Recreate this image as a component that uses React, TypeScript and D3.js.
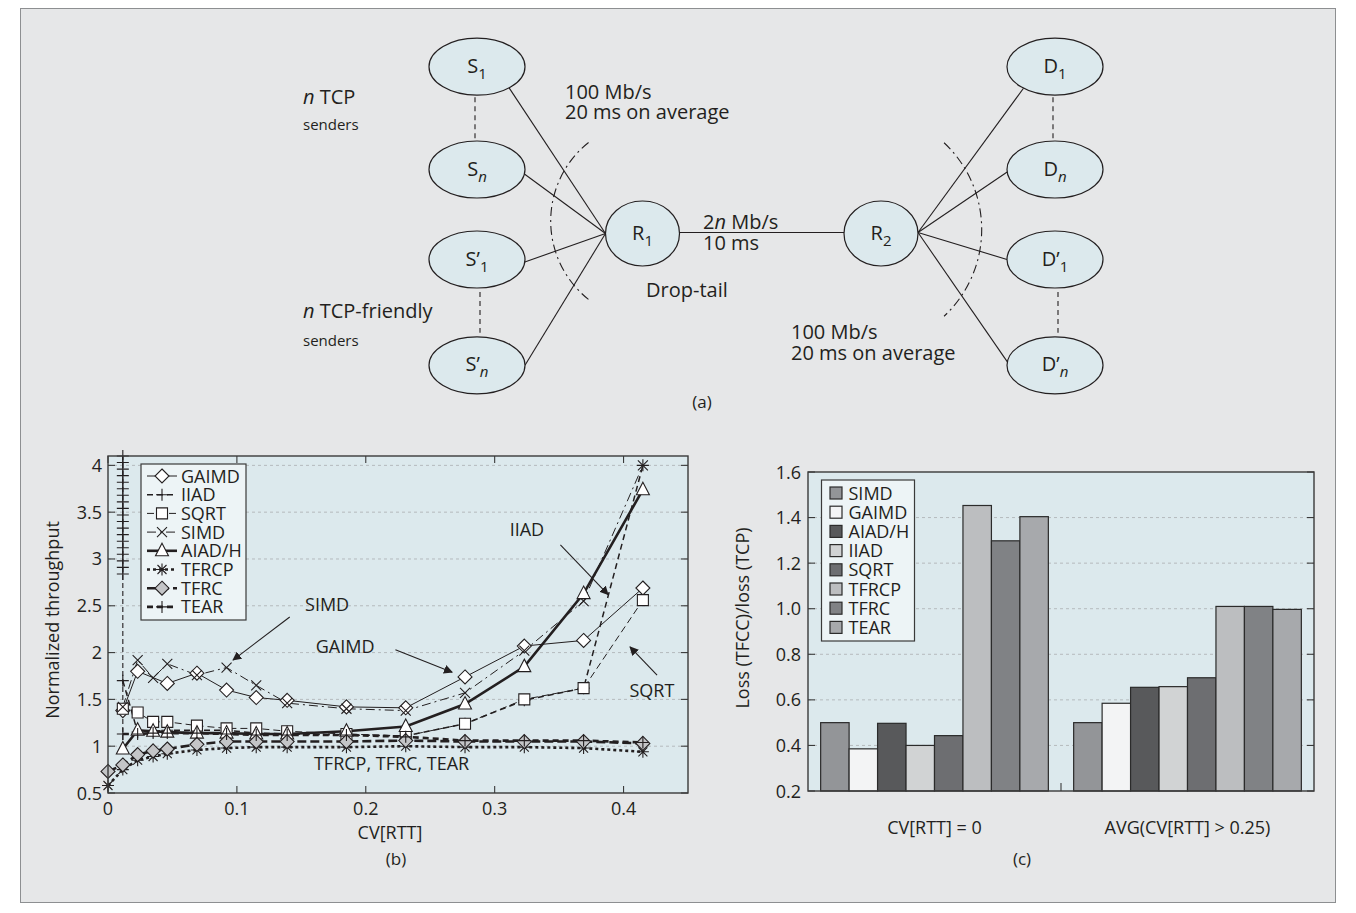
import React from 'react'
import * as d3 from 'd3'

const FONT = '"Open Sans", "Noto Sans", sans-serif'
const INK = '#231f20'
const PAGE_BG = '#e6e7e8'
const PLOT_BG = '#dce9ed'
const LEGEND_BG = '#edf4f6'
const NODE_BG = '#dce9ed'
const GRID = '#b5babd'

// ---------- (b) normalized throughput vs CV[RTT]
const cvRtt = [0, 0.0115, 0.023, 0.035, 0.046, 0.069, 0.092, 0.115, 0.139, 0.185, 0.231, 0.277, 0.323, 0.369, 0.415]
const gaimd = [null, 1.38, 1.8, null, 1.67, 1.78, 1.6, 1.52, 1.49, 1.42, 1.41, 1.74, 2.07, 2.13, 2.69]
const iiad = [null, 1.7, 1.15, 1.16, 1.17, 1.17, 1.17, 1.14, 1.13, 1.12, 1.11, 1.24, 1.49, 1.62, 4.0]
const sqrtV = [null, 1.4, 1.36, 1.26, 1.26, 1.22, 1.19, 1.19, 1.16, 1.13, 1.11, 1.24, 1.5, 1.62, 2.56]
const simd = [null, 1.42, 1.92, 1.73, 1.88, 1.76, 1.84, 1.65, 1.46, 1.4, 1.38, 1.57, 2.02, 2.55, 4.0]
const aiadh = [null, 0.97, 1.17, 1.16, 1.15, 1.14, 1.14, 1.13, 1.13, 1.16, 1.21, 1.45, 1.85, 2.63, 3.74]
const tfrcp = [0.58, 0.75, 0.85, 0.89, 0.92, 0.96, 0.98, 0.99, 0.99, 0.99, 1.0, 0.99, 0.99, 0.98, 0.94]
const tfrc = [0.73, 0.8, 0.91, 0.95, 0.97, 1.02, 1.05, 1.05, 1.05, 1.05, 1.06, 1.05, 1.05, 1.05, 1.03]
const tear = [null, 1.13, 1.13, 1.14, 1.14, 1.14, 1.13, 1.12, 1.12, 1.12, 1.1, 1.06, 1.06, 1.06, 1.04]
// the column of IIAD samples at the first non-zero CV
const iiadSpikeX = 0.0115
const iiadSpikeBase = 0.98
const iiadSpike = [2.84, 2.91, 2.98, 3.05, 3.12, 3.19, 3.26, 3.33, 3.4, 3.47, 3.54, 3.61, 3.68, 3.75, 3.82, 3.89, 3.96, 4.03, 4.1]
const yTicksB = [0.5, 1, 1.5, 2, 2.5, 3, 3.5, 4]
const xTicksB = [0, 0.1, 0.2, 0.3, 0.4]

// ---------- (c) loss ratio bars
const lossGroups = ['CV[RTT] = 0', 'AVG(CV[RTT] > 0.25)']
const lossProtocols = ['SIMD', 'GAIMD', 'AIAD/H', 'IIAD', 'SQRT', 'TFRCP', 'TFRC', 'TEAR']
const lossCvZero = [0.5, 0.385, 0.497, 0.4, 0.443, 1.453, 1.298, 1.404]
const lossCvHigh = [0.5, 0.585, 0.655, 0.658, 0.697, 1.01, 1.01, 0.997]
const barColors = ['#939598', '#f3f4f5', '#58595b', '#d1d3d4', '#6d6e71', '#bcbec0', '#808285', '#a7a9ac']
const yTicksC = [0.2, 0.4, 0.6, 0.8, 1.0, 1.2, 1.4, 1.6]

const series = [
  { name: 'GAIMD', values: gaimd, marker: 'diamond', fill: '#fff', width: 1, dash: '' },
  { name: 'IIAD', values: iiad, marker: 'plus', fill: 'none', width: 1.5, dash: '6,4' },
  { name: 'SQRT', values: sqrtV, marker: 'square', fill: '#fff', width: 1, dash: '7,4' },
  { name: 'SIMD', values: simd, marker: 'cross', fill: 'none', width: 1, dash: '9,4,2,4' },
  { name: 'AIAD/H', values: aiadh, marker: 'triangle', fill: '#fff', width: 2.6, dash: '' },
  { name: 'TFRCP', values: tfrcp, marker: 'star', fill: 'none', width: 2.6, dash: '3,3' },
  { name: 'TFRC', values: tfrc, marker: 'diamond', fill: '#c4c5c7', width: 2.6, dash: '9,4' },
  { name: 'TEAR', values: tear, marker: 'plus', fill: 'none', width: 2.6, dash: '6,4' },
]

function markerPath(kind: string): string {
  switch (kind) {
    case 'diamond': return 'M0,-7L7,0L0,7L-7,0Z'
    case 'square': return 'M-5.5,-5.5H5.5V5.5H-5.5Z'
    case 'triangle': return 'M0,-7.5L6.5,5L-6.5,5Z'
    case 'plus': return 'M-6,0H6M0,-6V6'
    case 'cross': return 'M-5,-5L5,5M5,-5L-5,5'
    case 'star': return 'M-6,0H6M0,-6V6M-4.5,-4.5L4.5,4.5M4.5,-4.5L-4.5,4.5'
  }
  return ''
}

const Marker = ({ kind, fill, x, y }: { kind: string; fill: string; x: number; y: number }) => (
  <path d={markerPath(kind)} transform={`translate(${x},${y})`} fill={fill} stroke={INK} strokeWidth={1.1} />
)

// ---------- diagram (a)
const nodeRx = 48, nodeRy = 28.5
const senders = [
  { base: 'S', prime: false, sub: '1', italic: false, cy: 66.7, angle: 48 },
  { base: 'S', prime: false, sub: 'n', italic: true, cy: 169.5, angle: 9 },
  { base: 'S', prime: true, sub: '1', italic: false, cy: 259.5, angle: 5 },
  { base: 'S', prime: true, sub: 'n', italic: true, cy: 365.3, angle: 0 },
]
const receivers = [
  { base: 'D', prime: false, sub: '1', italic: false, cy: 66.7, angle: 131 },
  { base: 'D', prime: false, sub: 'n', italic: true, cy: 169.5, angle: 175 },
  { base: 'D', prime: true, sub: '1', italic: false, cy: 259.5, angle: 180 },
  { base: 'D', prime: true, sub: 'n', italic: true, cy: 365.3, angle: 187 },
]
const senderX = 477, receiverX = 1055
const r1 = { cx: 642.5, cy: 233.5, rx: 37, ry: 32.5 }
const r2 = { cx: 881, cy: 233.5, rx: 37, ry: 32.5 }

const NodeLabel = ({ x, y, base, prime, sub, italic }: any) => (
  <text x={x} y={y} textAnchor="middle" fontFamily={FONT} fontSize={20} fill={INK}>
    {base}{prime ? '\u2019' : ''}
    <tspan fontSize={15} dy={6} fontStyle={italic ? 'italic' : 'normal'}>{sub}</tspan>
  </text>
)

function arcPath(cx: number, cy: number, r: number, a0: number, a1: number) {
  const p = d3.path()
  p.arc(cx, cy, r, (a0 * Math.PI) / 180, (a1 * Math.PI) / 180, a1 < a0)
  return p.toString()
}

export default function App() {
  // scales for (b)
  const xB = d3.scaleLinear().domain([0, 0.45]).range([108, 688])
  const yB = d3.scaleLinear().domain([0.5, 4.1]).range([793, 456])
  const line = d3.line<[number, number]>().x(d => xB(d[0])).y(d => yB(d[1]))
  const pts = (vals: (number | null)[]) =>
    cvRtt.map((c, i) => [c, vals[i]] as [number, number | null]).filter(d => d[1] != null) as [number, number][]

  // scales for (c)
  const cL = 808, cR = 1314, cT = 472, cB = 791
  const x0 = d3.scaleBand<string>().domain(lossGroups).range([cL, cR]).paddingInner(0.1).paddingOuter(0.05)
  const x1 = d3.scaleBand<string>().domain(lossProtocols).range([0, x0.bandwidth()])
  const yC = d3.scaleLinear().domain([0.2, 1.6]).range([cB, cT])
  const groupValues = [lossCvZero, lossCvHigh]

  const bL = 108, bR = 688, bT = 456, bB = 793

  const legendRowsB = series.map((s, i) => ({ ...s, y: 476 + i * 18.7 }))
  const legendRowsC = lossProtocols.map((p, i) => ({ name: p, color: barColors[i], y: 493 + i * 19.2 }))

  const annotations = [
    { text: 'SIMD', tx: 0.17, ty: 2.51, from: [0.141, 2.38], to: [0.097, 1.92] },
    { text: 'GAIMD', tx: 0.184, ty: 2.07, from: [0.223, 2.03], to: [0.267, 1.79] },
    { text: 'IIAD', tx: 0.325, ty: 3.32, from: [0.351, 3.15], to: [0.388, 2.62] },
    { text: 'SQRT', tx: 0.422, ty: 1.6, from: [0.426, 1.76], to: [0.405, 2.06] },
  ]

  const attach = (cx: number, cy: number, deg: number) => [
    cx + nodeRx * Math.cos((deg * Math.PI) / 180),
    cy + nodeRy * Math.sin((deg * Math.PI) / 180),
  ]

  return (
    <div style={{ position: 'absolute', left: 0, top: 0 }}>
      <svg width={1356} height={913} style={{ display: 'block', background: '#fff' }} fontFamily={FONT}>
        <defs>
          <marker id="ah" viewBox="0 0 10 10" refX={9} refY={5} markerWidth={9} markerHeight={9} markerUnits="userSpaceOnUse" orient="auto">
            <path d="M0,0L10,5L0,10Z" fill={INK} />
          </marker>
        </defs>
        <rect x={20.5} y={8.5} width={1315} height={894} fill={PAGE_BG} stroke="#8d8f91" strokeWidth={1} />

        {/* ---------------- (a) topology ---------------- */}
        <g stroke={INK} strokeWidth={1.1} fill="none">
          {senders.map((s, i) => {
            const [px, py] = attach(senderX, s.cy, s.angle)
            return <line key={'sl' + i} x1={px} y1={py} x2={r1.cx - r1.rx} y2={r1.cy} />
          })}
          {receivers.map((s, i) => {
            const [px, py] = attach(receiverX, s.cy, s.angle)
            return <line key={'rl' + i} x1={r2.cx + r2.rx} y1={r2.cy - 1} x2={px} y2={py} />
          })}
          <line x1={r1.cx + r1.rx} y1={r1.cy - 1} x2={r2.cx - r2.rx} y2={r2.cy - 1} />
          <line x1={senderX - 2} y1={senders[0].cy + nodeRy + 2} x2={senderX - 2} y2={senders[1].cy - nodeRy - 2} strokeDasharray="5,4" />
          <line x1={senderX + 3} y1={senders[2].cy + nodeRy + 4} x2={senderX + 3} y2={senders[3].cy - nodeRy - 4} strokeDasharray="5,4" />
          <line x1={receiverX - 2} y1={receivers[0].cy + nodeRy + 2} x2={receiverX - 2} y2={receivers[1].cy - nodeRy - 2} strokeDasharray="5,4" />
          <line x1={receiverX + 3} y1={receivers[2].cy + nodeRy + 4} x2={receiverX + 3} y2={receivers[3].cy - nodeRy - 4} strokeDasharray="5,4" />
          <path d={arcPath(651, 221, 100.3, 231.5, 128.5)} strokeDasharray="9,4,2,4" />
          <path d={arcPath(862.9, 229.5, 118.8, -46.9, 46.9)} strokeDasharray="9,4,2,4" />
        </g>
        {[...senders.map(s => ({ ...s, cx: senderX })), ...receivers.map(s => ({ ...s, cx: receiverX }))].map((n, i) => (
          <g key={'n' + i}>
            <ellipse cx={n.cx} cy={n.cy} rx={nodeRx} ry={nodeRy} fill={NODE_BG} stroke={INK} strokeWidth={1.2} />
            <NodeLabel x={n.cx} y={n.cy + 6} base={n.base} prime={n.prime} sub={n.sub} italic={n.italic} />
          </g>
        ))}
        {[{ r: r1, sub: '1' }, { r: r2, sub: '2' }].map((d, i) => (
          <g key={'r' + i}>
            <ellipse cx={d.r.cx} cy={d.r.cy} rx={d.r.rx} ry={d.r.ry} fill={NODE_BG} stroke={INK} strokeWidth={1.2} />
            <NodeLabel x={d.r.cx} y={d.r.cy + 6} base="R" prime={false} sub={d.sub} italic={false} />
          </g>
        ))}
        <g fill={INK} fontSize={20}>
          <text x={303} y={104}><tspan fontStyle="italic">n</tspan> TCP</text>
          <text x={303} y={130} fontSize={15}>senders</text>
          <text x={303} y={318}><tspan fontStyle="italic">n</tspan> TCP-friendly</text>
          <text x={303} y={346} fontSize={15}>senders</text>
          <text x={565} y={99}>100 Mb/s</text>
          <text x={565} y={119}>20 ms on average</text>
          <text x={703} y={229}>2<tspan fontStyle="italic">n</tspan> Mb/s</text>
          <text x={703} y={250}>10 ms</text>
          <text x={646} y={297}>Drop-tail</text>
          <text x={791} y={339}>100 Mb/s</text>
          <text x={791} y={360}>20 ms on average</text>
          <text x={702} y={408} textAnchor="middle" fontSize={17}>(a)</text>
        </g>

        {/* ---------------- (b) ---------------- */}
        <rect x={bL} y={bT} width={bR - bL} height={bB - bT} fill={PLOT_BG} />
        <g stroke={GRID} strokeWidth={1} strokeDasharray="3,3">
          {yTicksB.filter(t => t > 0.5).map(t => (
            <line key={'gb' + t} x1={bL} x2={bR} y1={yB(t)} y2={yB(t)} />
          ))}
        </g>
        <g stroke="#3a3a3a" strokeWidth={1.1}>
          {yTicksB.map(t => (
            <g key={'tb' + t}>
              <line x1={bL} x2={bL + 7} y1={yB(t)} y2={yB(t)} />
              <line x1={bR - 7} x2={bR} y1={yB(t)} y2={yB(t)} />
            </g>
          ))}
          {xTicksB.map(t => (
            <g key={'txb' + t}>
              <line x1={xB(t)} x2={xB(t)} y1={bB} y2={bB - 7} />
              <line x1={xB(t)} x2={xB(t)} y1={bT} y2={bT + 7} />
            </g>
          ))}
        </g>
        {/* IIAD spike */}
        <line x1={xB(iiadSpikeX)} x2={xB(iiadSpikeX)} y1={yB(iiadSpikeBase)} y2={yB(d3.max(iiadSpike) as number)} stroke={INK} strokeWidth={1.1} strokeDasharray="5,3" />
        {iiadSpike.map((v, i) => (
          <Marker key={'sp' + i} kind="plus" fill="none" x={xB(iiadSpikeX)} y={yB(v)} />
        ))}
        {series.map(s => (
          <path key={'l' + s.name} d={line(pts(s.values)) || ''} fill="none" stroke={INK} strokeWidth={s.width} strokeDasharray={s.dash} />
        ))}
        {series.map(s =>
          pts(s.values).map((p, i) => <Marker key={s.name + i} kind={s.marker} fill={s.fill} x={xB(p[0])} y={yB(p[1])} />)
        )}
        <rect x={bL} y={bT} width={bR - bL} height={bB - bT} fill="none" stroke="#3a3a3a" strokeWidth={1.4} />
        {/* legend b */}
        <rect x={141} y={464} width={105} height={156} fill={LEGEND_BG} stroke="#3a3a3a" strokeWidth={1.2} />
        {legendRowsB.map(r => (
          <g key={'lgb' + r.name}>
            <line x1={147} x2={177} y1={r.y} y2={r.y} stroke={INK} strokeWidth={r.width} strokeDasharray={r.dash} />
            <Marker kind={r.marker} fill={r.fill} x={162} y={r.y} />
            <text x={181} y={r.y + 6.5} fontSize={18} fill={INK}>{r.name}</text>
          </g>
        ))}
        {/* annotations */}
        {annotations.map(a => (
          <g key={'an' + a.text}>
            <text x={xB(a.tx)} y={yB(a.ty) + 6.5} textAnchor="middle" fontSize={18} fill={INK}>{a.text}</text>
            <line x1={xB(a.from[0])} y1={yB(a.from[1])} x2={xB(a.to[0])} y2={yB(a.to[1])} stroke={INK} strokeWidth={1.1} markerEnd="url(#ah)" />
          </g>
        ))}
        <text x={xB(0.22)} y={yB(0.82) + 6.5} textAnchor="middle" fontSize={18} fill={INK}>TFRCP, TFRC, TEAR</text>
        {/* axes text b */}
        <g fontSize={18} fill={INK}>
          {yTicksB.map(t => (
            <text key={'ylb' + t} x={102} y={yB(t) + 6.5} textAnchor="end">{d3.format('~g')(t)}</text>
          ))}
          {xTicksB.map(t => (
            <text key={'xlb' + t} x={xB(t)} y={815} textAnchor="middle">{d3.format('~g')(t)}</text>
          ))}
          <text x={390} y={839} textAnchor="middle">CV[RTT]</text>
          <text transform="translate(59,620) rotate(-90)" textAnchor="middle">Normalized throughput</text>
          <text x={396} y={865} textAnchor="middle" fontSize={17}>(b)</text>
        </g>

        {/* ---------------- (c) ---------------- */}
        <rect x={cL} y={cT} width={cR - cL} height={cB - cT} fill={PLOT_BG} />
        <g stroke={GRID} strokeWidth={1} strokeDasharray="3,3">
          {yTicksC.filter(t => t > 0.2 && t < 1.6).map(t => (
            <line key={'gc' + t} x1={cL} x2={cR} y1={yC(t)} y2={yC(t)} />
          ))}
        </g>
        {lossGroups.map((g, gi) => (
          <g key={'grp' + g} transform={`translate(${x0(g)},0)`}>
            {lossProtocols.map((p, pi) => (
              <rect key={'bar' + p} x={x1(p)} y={yC(groupValues[gi][pi])} width={x1.bandwidth()} height={yC(0.2) - yC(groupValues[gi][pi])}
                fill={barColors[pi]} stroke="#2b2b2b" strokeWidth={1.2} />
            ))}
          </g>
        ))}
        <g stroke="#3a3a3a" strokeWidth={1.1}>
          {yTicksC.map(t => (
            <g key={'tc' + t}>
              <line x1={cL} x2={cL + 7} y1={yC(t)} y2={yC(t)} />
              <line x1={cR - 7} x2={cR} y1={yC(t)} y2={yC(t)} />
            </g>
          ))}
          <line x1={(cL + cR) / 2} x2={(cL + cR) / 2} y1={cB} y2={cB - 8} />
        </g>
        <rect x={cL} y={cT} width={cR - cL} height={cB - cT} fill="none" stroke="#3a3a3a" strokeWidth={1.4} />
        <rect x={821.5} y={480} width={93} height={161} fill={LEGEND_BG} stroke="#3a3a3a" strokeWidth={1.2} />
        {legendRowsC.map(r => (
          <g key={'lgc' + r.name}>
            <rect x={830} y={r.y - 6} width={12} height={12} fill={r.color} stroke="#2b2b2b" strokeWidth={1.2} />
            <text x={848.5} y={r.y + 6.5} fontSize={18} fill={INK}>{r.name}</text>
          </g>
        ))}
        <g fontSize={18} fill={INK}>
          {yTicksC.map(t => (
            <text key={'ylc' + t} x={801} y={yC(t) + 6.5} textAnchor="end">{d3.format('.1f')(t)}</text>
          ))}
          {lossGroups.map(g => (
            <text key={'cat' + g} x={(x0(g) as number) + x0.bandwidth() / 2} y={834} textAnchor="middle">{g}</text>
          ))}
          <text transform="translate(749,618) rotate(-90)" textAnchor="middle">Loss (TFCC)/loss (TCP)</text>
          <text x={1022} y={865} textAnchor="middle" fontSize={17}>(c)</text>
        </g>
      </svg>
    </div>
  )
}
